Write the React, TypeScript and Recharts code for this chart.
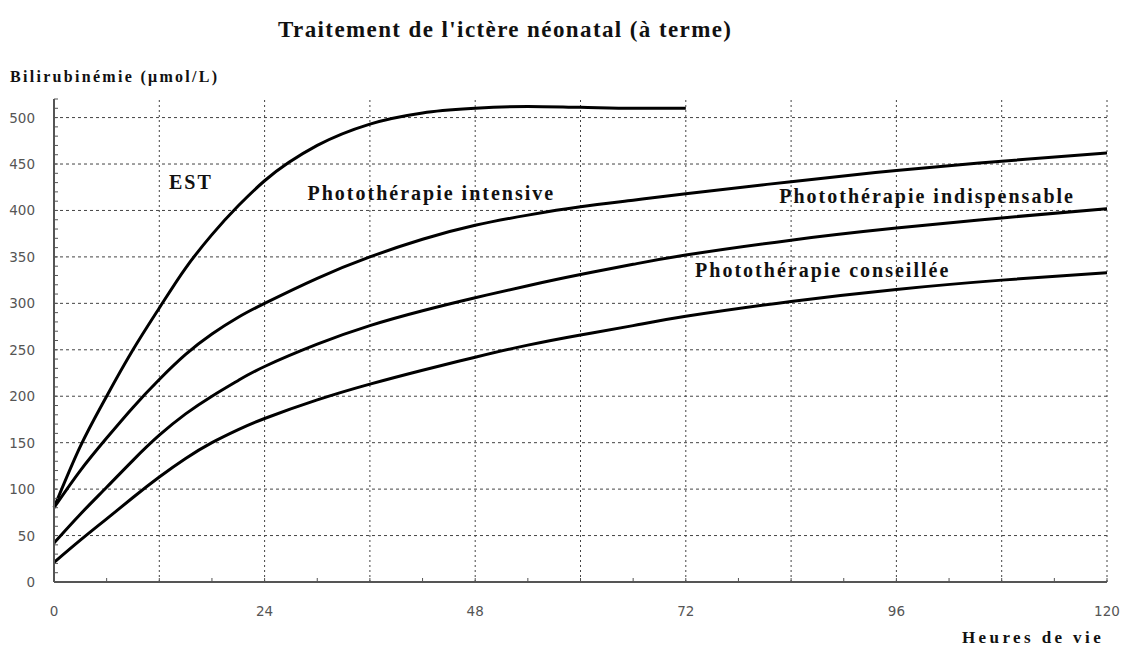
import React from "react";
import { LineChart, Line, XAxis, YAxis, ReferenceLine, ReferenceDot } from "recharts";

const hours = [0, 3, 6, 9, 12, 15, 18, 21, 24, 30, 36, 42, 48, 54, 60, 66, 72, 84, 96, 108, 120];
const est = [80, 146, 200, 250, 295, 338, 374, 405, 432, 470, 493, 505, 510, 512, 511, 510, 510, null, null, null, null];
const intensive = [80, 120, 155, 188, 218, 245, 267, 285, 300, 327, 350, 369, 384, 395, 404, 411, 418, 431, 443, 453, 462];
const indispensable = [42, 73, 102, 131, 158, 181, 200, 217, 232, 256, 276, 292, 306, 319, 331, 342, 352, 368, 381, 392, 402];
const conseillee = [21, 45, 68, 91, 113, 133, 150, 164, 176, 196, 213, 228, 242, 255, 266, 276, 286, 302, 315, 325, 333];

const xMinorTicks = [0, 6, 12, 18, 24, 30, 36, 42, 48, 54, 60, 66, 72, 78, 84, 90, 96, 102, 108, 114, 120];
const xLabelTicks = [0, 24, 48, 72, 96, 120];
const xGrid = [12, 24, 36, 48, 60, 72, 84, 96, 108, 120];
const yMinorTicks = [0, 10, 20, 30, 40, 50, 60, 70, 80, 90, 100, 110, 120, 130, 140, 150, 160, 170, 180, 190, 200, 210, 220, 230, 240, 250, 260, 270, 280, 290, 300, 310, 320, 330, 340, 350, 360, 370, 380, 390, 400, 410, 420, 430, 440, 450, 460, 470, 480, 490, 500, 510, 520];
const yLabelTicks = [0, 50, 100, 150, 200, 250, 300, 350, 400, 450, 500];
const yGrid = [50, 100, 150, 200, 250, 300, 350, 400, 450, 500];

const labelTexts = ["EST", "Photothérapie intensive", "Photothérapie indispensable", "Photothérapie conseillée"];
const labelHours = [15.6, 43.0, 99.5, 87.6];
const labelValues = [431, 419, 416, 336];

const data = hours.map((h, i) => ({
  h,
  est: est[i],
  intensive: intensive[i],
  indispensable: indispensable[i],
  conseillee: conseillee[i],
}));

const serif = '"Liberation Serif", "Times New Roman", serif';
const sans = '"DejaVu Sans", Verdana, sans-serif';

const YTick = (props: any) => {
  const { x, y, payload } = props;
  const v = payload.value;
  return (
    <g>
      <line x1={x} y1={y} x2={x + 4} y2={y} stroke="#555" strokeWidth={1} />
      {yLabelTicks.includes(v) && (
        <text x={x - 19} y={y} textAnchor="end" dominantBaseline="central" fontFamily={sans} fontSize={13.5} fill="#555">
          {v}
        </text>
      )}
    </g>
  );
};

const XTick = (props: any) => {
  const { x, y, payload } = props;
  const v = payload.value;
  return (
    <g>
      <line x1={x} y1={y} x2={x} y2={y - 4} stroke="#555" strokeWidth={1} />
      {xLabelTicks.includes(v) && (
        <text x={x} y={y + 29} textAnchor="middle" dominantBaseline="central" fontFamily={sans} fontSize={13.5} fill="#555">
          {v}
        </text>
      )}
    </g>
  );
};

export default function App() {
  return (
    <div style={{ position: "relative", width: 1125, height: 643, background: "#fff" }}>
      <div
        style={{
          position: "absolute",
          left: 270,
          top: 9,
          fontFamily: serif,
          fontWeight: "bold",
          fontSize: 23,
          lineHeight: "26px",
          letterSpacing: 1.4,
          whiteSpace: "nowrap",
          color: "#111",
        }}
      >
        Traitement de l'ictère néonatal (à terme)
      </div>
      <div
        style={{
          position: "absolute",
          left: 2,
          top: 59,
          fontFamily: serif,
          fontWeight: "bold",
          fontSize: 16,
          lineHeight: "20px",
          letterSpacing: 2.3,
          whiteSpace: "nowrap",
          color: "#111",
        }}
      >
        Bilirubinémie (μmol/L)
      </div>
      <div
        style={{
          position: "absolute",
          left: 954,
          top: 620,
          fontFamily: serif,
          fontWeight: "bold",
          fontSize: 17,
          lineHeight: "20px",
          letterSpacing: 3.4,
          whiteSpace: "nowrap",
          color: "#111",
        }}
      >
        Heures de vie
      </div>
      <div style={{ position: "absolute", left: 0, top: 0 }}>
        <LineChart width={1125} height={643} data={data} margin={{ top: 91, right: 26, bottom: 0, left: 0 }}>
          <XAxis
            dataKey="h"
            type="number"
            domain={[0, 120]}
            ticks={xMinorTicks}
            interval={0}
            height={69}
            tickSize={0}
            tickMargin={0}
            tickLine={false}
            tick={XTick}
            axisLine={{ stroke: "#555", strokeWidth: 2 }}
          />
          <YAxis
            type="number"
            domain={[0, 520]}
            ticks={yMinorTicks}
            interval={0}
            width={46}
            tickSize={0}
            tickMargin={0}
            tickLine={false}
            tick={YTick}
            axisLine={{ stroke: "#555", strokeWidth: 2 }}
          />
          {yGrid.map((v) => (
            <ReferenceLine key={"y" + v} y={v} stroke="#444" strokeWidth={1} strokeDasharray="3 3" />
          ))}
          {xGrid.map((v) => (
            <ReferenceLine key={"x" + v} x={v} stroke="#444" strokeWidth={1} strokeDasharray="2 3" />
          ))}
          <Line type="monotone" dataKey="est" stroke="#000" strokeWidth={3} dot={false} isAnimationActive={false} />
          <Line type="natural" dataKey="intensive" stroke="#000" strokeWidth={3} dot={false} isAnimationActive={false} />
          <Line type="natural" dataKey="indispensable" stroke="#000" strokeWidth={3} dot={false} isAnimationActive={false} />
          <Line type="natural" dataKey="conseillee" stroke="#000" strokeWidth={3} dot={false} isAnimationActive={false} />
          {labelTexts.map((t, i) => (
            <ReferenceDot
              key={t}
              x={labelHours[i]}
              y={labelValues[i]}
              r={0}
              fill="none"
              stroke="none"
              shape={(p: any) => (
                <text
                  x={p.cx}
                  y={p.cy}
                  textAnchor="middle"
                  dominantBaseline="central"
                  fontFamily={serif}
                  fontWeight="bold"
                  fontSize={20}
                  letterSpacing={2}
                  fill="#111"
                >
                  {t}
                </text>
              )}
            />
          ))}
        </LineChart>
      </div>
    </div>
  );
}
